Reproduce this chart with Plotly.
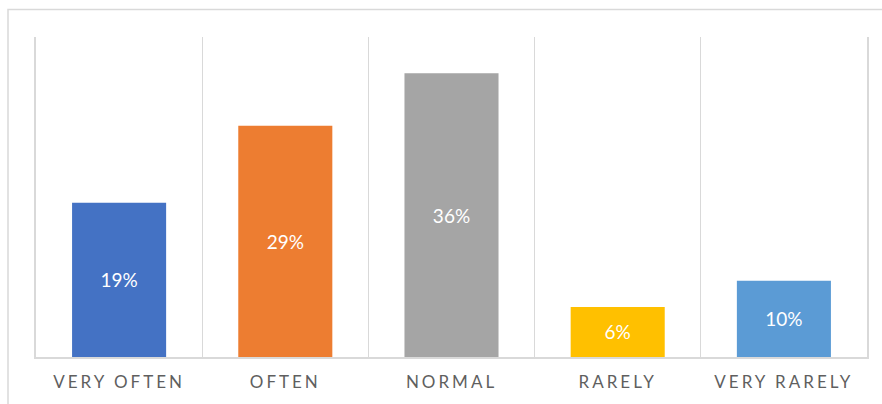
import plotly.graph_objects as go

categories = ["VERY OFTEN", "OFTEN", "NORMAL", "RARELY", "VERY RARELY"]
values = [19.4, 29.1, 35.7, 6.3, 9.6]
colors = ["#4472C4", "#ED7D31", "#A5A5A5", "#FFC000", "#5B9BD5"]

W, H = 882, 404
ml, mr, mt, mb = 36, 15, 37, 47

ticktext = ['<span style="letter-spacing:3px">%s</span>' % c for c in categories]

fig = go.Figure(go.Bar(
    x=categories, y=values,
    marker=dict(color=colors, line=dict(width=0)),
    texttemplate="%{y:.0f}%",
    textposition="inside",
    insidetextanchor="middle",
    textfont=dict(color="white", size=19, family="Lato"),
    cliponaxis=False,
    hoverinfo="skip",
))

pw = W - ml - mr
ph = H - mt - mb
fig.add_shape(type="rect", xref="paper", yref="paper",
              x0=(8 - ml) / pw, x1=(W + 20 - ml) / pw,
              y0=-(H + 20 - mt - ph) / ph, y1=(H - 9.5 - mb) / ph,
              line=dict(color="#D9D9D9", width=1.5), fillcolor="rgba(0,0,0,0)", layer="below")

fig.update_layout(
    width=W, height=H,
    margin=dict(l=ml, r=mr, t=mt, b=mb, pad=0),
    paper_bgcolor="white", plot_bgcolor="white",
    bargap=0.434,
    showlegend=False,
    xaxis=dict(
        tickmode="array", tickvals=categories, ticktext=ticktext,
        tickson="boundaries", showgrid=True, gridcolor="#D9D9D9", gridwidth=1,
        showline=True, linecolor="#D9D9D9", linewidth=1.5,
        ticks="", ticklen=0, ticklabelstandoff=9,
        tickfont=dict(color="#5f5f5f", size=17, family="Lato"),
        range=[-0.5, 4.5], fixedrange=True,
    ),
    yaxis=dict(
        range=[0, 40.25], showgrid=False, zeroline=False,
        showticklabels=False, ticks="",
        showline=True, mirror=True, linecolor="#D9D9D9", linewidth=1.5,
        fixedrange=True,
    ),
)

fig.write_html("out.html", config={"displayModeBar": False})
